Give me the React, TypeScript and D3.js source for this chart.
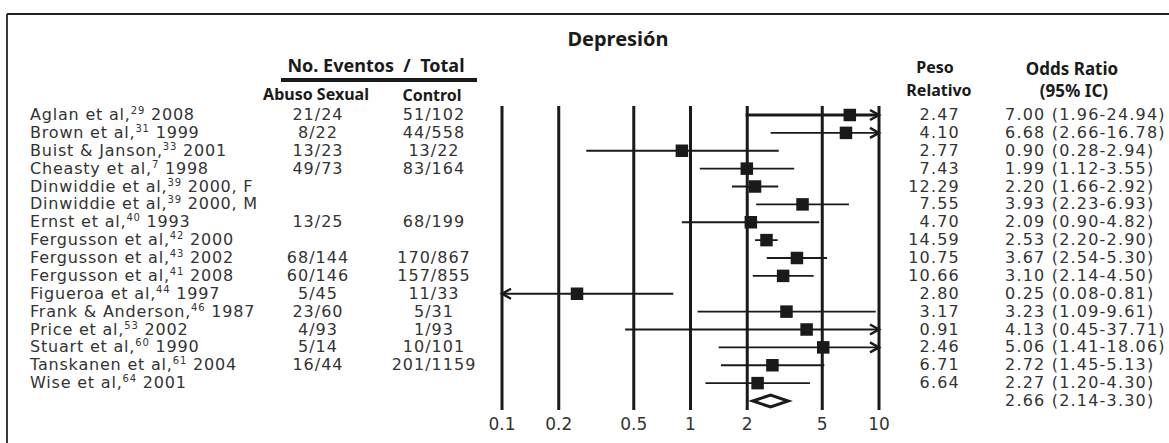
import React from "react";
import * as d3 from "d3";

const authors = [
  "Aglan et al,", "Brown et al,", "Buist & Janson,", "Cheasty et al,", "Dinwiddie et al,",
  "Dinwiddie et al,", "Ernst et al,", "Fergusson et al,", "Fergusson et al,", "Fergusson et al,",
  "Figueroa et al,", "Frank & Anderson,", "Price et al,", "Stuart et al,", "Tanskanen et al,", "Wise et al,",
];
const refs = ["29", "31", "33", "7", "39", "39", "40", "42", "43", "41", "44", "46", "53", "60", "61", "64"];
const years = ["2008", "1999", "2001", "1998", "2000, F", "2000, M", "1993", "2000", "2002", "2008", "1997", "1987", "2002", "1990", "2004", "2001"];
const abuseCounts = ["21/24", "8/22", "13/23", "49/73", "", "", "13/25", "", "68/144", "60/146", "5/45", "23/60", "4/93", "5/14", "16/44", ""];
const controlCounts = ["51/102", "44/558", "13/22", "83/164", "", "", "68/199", "", "170/867", "157/855", "11/33", "5/31", "1/93", "10/101", "201/1159", ""];
const weights = ["2.47", "4.10", "2.77", "7.43", "12.29", "7.55", "4.70", "14.59", "10.75", "10.66", "2.80", "3.17", "0.91", "2.46", "6.71", "6.64"];
const oddsRatios = [7.0, 6.68, 0.9, 1.99, 2.2, 3.93, 2.09, 2.53, 3.67, 3.1, 0.25, 3.23, 4.13, 5.06, 2.72, 2.27];
const lower = [1.96, 2.66, 0.28, 1.12, 1.66, 2.23, 0.9, 2.2, 2.54, 2.14, 0.08, 1.09, 0.45, 1.41, 1.45, 1.2];
const upper = [24.94, 16.78, 2.94, 3.55, 2.92, 6.93, 4.82, 2.9, 5.3, 4.5, 0.81, 9.61, 37.71, 18.06, 5.13, 4.3];
const pooled = { or: 2.66, lo: 2.14, hi: 3.3 };
const ticks = [0.1, 0.2, 0.5, 1, 2, 5, 10];

const fmt = d3.format(".2f");

export default function App() {
  const x = d3.scaleLog().domain([0.1, 10]).range([502, 879]);
  const n = authors.length;
  const y = d3.scalePoint<number>().domain(d3.range(n + 1)).range([115, 401]);
  const dataFont = "'DejaVu Sans', sans-serif";
  const headFont = "'Noto Sans', sans-serif";
  const ink = "#1a1a1a";
  const sq = 12.5;
  const [x0, x1] = x.domain();

  return (
    <svg width={1169} height={443} style={{ position: "fixed", left: 0, top: 0, background: "#fff" }}>
      {/* frame */}
      <line x1={7} x2={1169} y1={14} y2={14} stroke="#222" strokeWidth={1.8} />
      <line x1={7} x2={7} y1={14} y2={443} stroke="#222" strokeWidth={1.8} />

      {/* headers */}
      <text x={618} y={46} textAnchor="middle" fontFamily={headFont} fontWeight="bold" fontSize={20} fill={ink}>Depresión</text>
      <text x={376} y={72} textAnchor="middle" fontFamily={headFont} fontWeight="bold" fontSize={18} fill={ink} style={{ whiteSpace: "pre" }}>{"No. Eventos  /  Total"}</text>
      <line x1={281} x2={477} y1={80} y2={80} stroke={ink} strokeWidth={4} />
      <text x={316} y={100} textAnchor="middle" fontFamily={headFont} fontWeight="bold" fontSize={16} fill={ink}>Abuso Sexual</text>
      <text x={432} y={101} textAnchor="middle" fontFamily={headFont} fontWeight="bold" fontSize={16} fill={ink}>Control</text>
      <text x={935} y={73} textAnchor="middle" fontFamily={headFont} fontWeight="bold" fontSize={16} fill={ink}>Peso</text>
      <text x={939} y={96} textAnchor="middle" fontFamily={headFont} fontWeight="bold" fontSize={16} fill={ink}>Relativo</text>
      <text x={1072} y={75} textAnchor="middle" fontFamily={headFont} fontWeight="bold" fontSize={17} fill={ink}>Odds Ratio</text>
      <text x={1074} y={97} textAnchor="middle" fontFamily={headFont} fontWeight="bold" fontSize={17} fill={ink}>(95% IC)</text>

      {/* vertical reference lines */}
      {ticks.map((t) => (
        <g key={t}>
          <line x1={x(t)} x2={x(t)} y1={106} y2={410} stroke={ink} strokeWidth={3} />
          <text x={x(t)} y={430} textAnchor="middle" fontFamily={dataFont} fontSize={17} fill="#333">{String(t)}</text>
        </g>
      ))}

      {/* rows */}
      {authors.map((a, i) => {
        const cy = y(i)!;
        const lo = Math.max(lower[i], x0);
        const hi = Math.min(upper[i], x1);
        const sw = i === 0 ? 3 : 1.8;
        return (
          <g key={i}>
            <text x={30} y={cy + 5} fontFamily={dataFont} fontSize={16} letterSpacing={0.8} fill="#333">
              {a}
              <tspan fontSize={10} dy={-6}>{refs[i]}</tspan>
              <tspan dy={6}>{" " + years[i]}</tspan>
            </text>
            <text x={318} y={cy + 5} textAnchor="middle" fontFamily={dataFont} fontSize={16} letterSpacing={1} fill="#333">{abuseCounts[i]}</text>
            <text x={434} y={cy + 5} textAnchor="middle" fontFamily={dataFont} fontSize={16} letterSpacing={1} fill="#333">{controlCounts[i]}</text>
            <text x={960} y={cy + 5} textAnchor="end" fontFamily={dataFont} fontSize={16} letterSpacing={1.2} fill="#333">{weights[i]}</text>
            <text x={1005} y={cy + 5} fontFamily={dataFont} fontSize={16} letterSpacing={1.2} fill="#333">
              {`${fmt(oddsRatios[i])} (${fmt(lower[i])}-${fmt(upper[i])})`}
            </text>
            <line x1={x(lo)} x2={x(hi)} y1={cy} y2={cy} stroke={ink} strokeWidth={sw} />
            {upper[i] > x1 && (
              <path d={`M${x(x1) - 9},${cy - 5}L${x(x1)},${cy}L${x(x1) - 9},${cy + 5}`} fill="none" stroke={ink} strokeWidth={2.5} />
            )}
            {lower[i] < x0 && (
              <path d={`M${x(x0) + 9},${cy - 5}L${x(x0)},${cy}L${x(x0) + 9},${cy + 5}`} fill="none" stroke={ink} strokeWidth={2.5} />
            )}
            <rect x={x(oddsRatios[i]) - sq / 2} y={cy - sq / 2} width={sq} height={sq} fill={ink} />
          </g>
        );
      })}

      {/* pooled */}
      {(() => {
        const cy = y(n)!;
        return (
          <g>
            <path
              d={`M${x(pooled.lo)},${cy}L${x(pooled.or)},${cy - 6}L${x(pooled.hi)},${cy}L${x(pooled.or)},${cy + 6}Z`}
              fill="#fff" stroke={ink} strokeWidth={3} strokeLinejoin="miter"
            />
            <text x={1005} y={cy + 5} fontFamily={dataFont} fontSize={16} letterSpacing={1.2} fill="#333">
              {`${fmt(pooled.or)} (${fmt(pooled.lo)}-${fmt(pooled.hi)})`}
            </text>
          </g>
        );
      })()}
    </svg>
  );
}
